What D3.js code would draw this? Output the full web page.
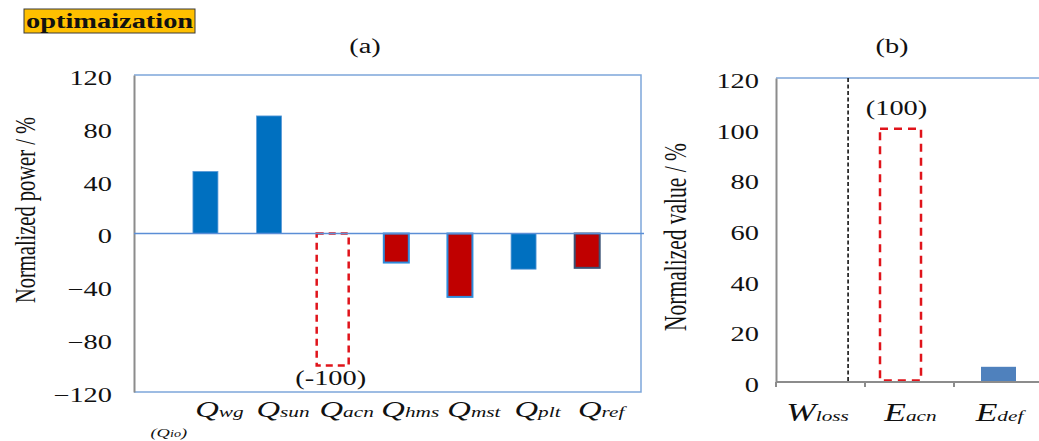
<!DOCTYPE html>
<html>
<head>
<meta charset="utf-8">
<script src="https://cdn.jsdelivr.net/npm/d3@7"></script>
<style>
  html, body { margin: 0; padding: 0; background: #fff; }
  svg { display: block; }
  svg text { font-family: "Liberation Serif", "Times New Roman", serif; }
</style>
</head>
<body>
<svg id="chart" width="1039" height="441"></svg>
<script>
// ---- data ----------------------------------------------------------------
// (a) normalized power per heat-flow term
const powerCats   = ["io", "wg", "sun", "acn", "hms", "mst", "plt", "ref"];
const powerValues = [null, 47, 89, -100, -22, -48, -27, -26];
const powerKinds  = ["none", "gain", "gain", "baseline", "loss", "loss", "gain", "loss"];
const powerTicks  = [-120, -80, -40, 0, 40, 80, 120];

// (b) normalized energy / loss values
const valueCats   = [["W", "loss"], ["E", "acn"], ["E", "def"]];
const valueValues = [0, 100, 6];
const valueKinds  = ["separator", "baseline", "gain"];
const valueTicks  = [0, 20, 40, 60, 80, 100, 120];

// ---- helpers ---------------------------------------------------------------
const SERIF = "Liberation Serif";
const SX = 1.42;   // the whole figure uses horizontally widened lettering

const svg = d3.select("#chart");
svg.append("rect").attr("width", 1039).attr("height", 441).attr("fill", "#fff");

function addText(parent, x, y, str, o = {}) {
  const t = parent.append("text")
    .attr("transform", `translate(${x},${y}) scale(${SX},1)` + (o.rotate ? " rotate(-90)" : ""))
    .attr("text-anchor", o.anchor || "middle")
    .attr("font-family", SERIF)
    .style("font-family", SERIF)
    .style("font-size", (o.size || 20) + "px")
    .style("font-weight", o.weight || "normal")
    .style("font-style", o.italic ? "italic" : "normal")
    .attr("fill", "#111");
  if (str != null) t.text(str);
  return t;
}

function subLabel(parent, x, y, main, sub, mainSize, subSize) {
  const t = addText(parent, x, y, null, { size: mainSize, italic: true });
  t.append("tspan").text(main);
  t.append("tspan").style("font-size", subSize + "px").text(sub);
  return t;
}

function styleTicks(axisG, pad) {
  axisG.attr("font-family", SERIF);
  axisG.selectAll("text")
    .attr("transform", `scale(${SX},1)`).attr("y", 3)
    .attr("font-family", SERIF)
    .style("font-family", SERIF).style("font-size", "20px").attr("fill", "#111");
}

const BLUE = "#0070C0", RED = "#C00000", DASH_RED = "#E0141B";
const FRAME = "#7EA6DA", AXIS_GREY = "#8C8C8C";
const outline = { hms: "#2E8BDB", mst: "#2E8BDB", ref: "#3B5275" };

// ---- heading ---------------------------------------------------------------
svg.append("rect").attr("x", 24).attr("y", 9).attr("width", 171).attr("height", 24)
  .attr("fill", "#FFC000").attr("stroke", "#3a3a3a").attr("stroke-width", 1);
addText(svg, 26, 28, "optimaization", { anchor: "start", weight: "bold", size: 20 });

// ---- panel (a) ---------------------------------------------------------------
const A = { left: 134, right: 641, top: 75, bottom: 392 };
const gA = svg.append("g");

const xA = d3.scaleBand().domain(powerCats).range([110, 619]);
const yA = d3.scaleLinear().domain([-120, 120]).range([A.bottom, A.top]);
const cx = c => xA(c) + xA.bandwidth() / 2;

addText(gA, 365, 53, "(a)", { size: 20 });

// frame
gA.append("path")
  .attr("d", `M${A.left},${A.top}H${A.right}V${A.bottom}H${A.left}`)
  .attr("fill", "none").attr("stroke", FRAME).attr("stroke-width", 1.5);

// left value axis
const axA = gA.append("g").attr("transform", `translate(${A.left},0)`)
  .call(d3.axisLeft(yA).tickValues(powerTicks).tickSize(0).tickSizeOuter(0).tickPadding(15.5));
axA.select(".domain").attr("stroke", AXIS_GREY).attr("stroke-width", 2);
styleTicks(axA);

addText(gA, 35, 210, "Normalized power / %", { rotate: true, size: 20.5 });

// bars
const pData = powerCats.map((c, i) => ({ c, v: powerValues[i], k: powerKinds[i] }));
const barW = 25;
gA.selectAll("rect.bar").data(pData.filter(d => d.k === "gain" || d.k === "loss"))
  .join("rect").attr("class", "bar")
  .attr("x", d => cx(d.c) - barW / 2)
  .attr("width", barW)
  .attr("y", d => yA(Math.max(0, d.v)))
  .attr("height", d => Math.abs(yA(d.v) - yA(0)))
  .attr("fill", d => d.k === "gain" ? BLUE : RED)
  .attr("stroke", d => outline[d.c] || "#5C9BD8")
  .attr("stroke-width", d => outline[d.c] ? 2 : 0.8);

// reference outline (dashed) with value label
const refA = pData.filter(d => d.k === "baseline");
gA.selectAll("rect.ref").data(refA).join("rect").attr("class", "ref")
  .attr("x", d => cx(d.c) - 16).attr("width", 32)
  .attr("y", d => yA(Math.max(0, d.v)))
  .attr("height", d => Math.abs(yA(d.v) - yA(0)))
  .attr("fill", "none").attr("stroke", DASH_RED)
  .attr("stroke-width", 2.5).attr("stroke-dasharray", "7,5");
refA.forEach(d => addText(gA, cx(d.c) - 2, yA(d.v) + 19, `(${d.v})`, { size: 20 }));

// zero line
gA.append("line")
  .attr("x1", A.left).attr("x2", A.right + 3)
  .attr("y1", yA(0)).attr("y2", yA(0))
  .attr("stroke", "#5B8ED6").attr("stroke-width", 1.3);

// category labels
pData.forEach(d => {
  if (d.k === "none") {
    const t = addText(gA, cx(d.c) + 27, 437, null, { size: 13, italic: true });
    t.append("tspan").text("(Q");
    t.append("tspan").style("font-size", "10px").text(d.c);
    t.append("tspan").text(")");
  } else {
    subLabel(gA, cx(d.c) + 14, 417, "Q", d.c, 23, 15);
  }
});

// ---- panel (b) ---------------------------------------------------------------
const B = { left: 776, right: 1039, top: 78, bottom: 382 };
const gB = svg.append("g");

const xB = d3.scaleBand().domain(valueCats.map(d => d.join(""))).range([776, 1043]);
const yB = d3.scaleLinear().domain([0, 120]).range([B.bottom, B.top]);
const cxB = c => xB(c) + xB.bandwidth() / 2;

addText(gB, 892, 53, "(b)", { size: 20 });

// top frame line
gB.append("line").attr("x1", B.left).attr("x2", B.right)
  .attr("y1", B.top).attr("y2", B.top)
  .attr("stroke", FRAME).attr("stroke-width", 1.5);

// left axis
const axB = gB.append("g").attr("transform", `translate(${B.left},0)`)
  .call(d3.axisLeft(yB).tickValues(valueTicks).tickSize(0).tickSizeOuter(0).tickPadding(12));
axB.select(".domain").attr("stroke", AXIS_GREY).attr("stroke-width", 2);
styleTicks(axB);

addText(gB, 686, 237, "Normalized value / %", { rotate: true, size: 21.5 });

const vData = valueCats.map((c, i) => ({ c: c.join(""), main: c[0], sub: c[1], v: valueValues[i], k: valueKinds[i] }));

// separator after the loss term
vData.filter(d => d.k === "separator").forEach(d => {
  gB.append("line")
    .attr("x1", xB(d.c) + xB.bandwidth() * 0.81).attr("x2", xB(d.c) + xB.bandwidth() * 0.81)
    .attr("y1", B.top).attr("y2", B.bottom)
    .attr("stroke", "#111").attr("stroke-width", 1.6).attr("stroke-dasharray", "4,2.5");
});

// reference outline
vData.filter(d => d.k === "baseline").forEach(d => {
  gB.append("rect")
    .attr("x", cxB(d.c) - 9 - 20.5).attr("width", 41)
    .attr("y", yB(d.v)).attr("height", yB(0) - yB(d.v) - 1.5)
    .attr("fill", "none").attr("stroke", DASH_RED)
    .attr("stroke-width", 2.5).attr("stroke-dasharray", "8,6");
  addText(gB, cxB(d.c) - 13, yB(d.v) - 14, `(${d.v})`, { size: 20 });
});

// bar
gB.selectAll("rect.bar").data(vData.filter(d => d.k === "gain")).join("rect").attr("class", "bar")
  .attr("x", d => cxB(d.c) - 17.5).attr("width", 35)
  .attr("y", d => yB(d.v)).attr("height", d => yB(0) - yB(d.v))
  .attr("fill", "#4F81BD");

// bottom axis with boundary ticks
const axBx = gB.append("g").attr("transform", `translate(0,${B.bottom})`)
  .call(d3.axisBottom(xB).tickSize(0).tickSizeOuter(0).tickFormat(""));
axBx.select(".domain").attr("stroke", AXIS_GREY).attr("stroke-width", 2)
  .attr("d", `M${B.left},0H${B.right}`);
gB.selectAll("line.btick").data(vData).join("line").attr("class", "btick")
  .attr("x1", d => xB(d.c)).attr("x2", d => xB(d.c))
  .attr("y1", B.bottom).attr("y2", B.bottom + 5)
  .attr("stroke", AXIS_GREY).attr("stroke-width", 2);

// category labels
vData.forEach(d => subLabel(gB, cxB(d.c) + (d.main === "W" ? -3 : 1), 421, d.main, d.sub, 25, 15));
</script>
</body>
</html>
